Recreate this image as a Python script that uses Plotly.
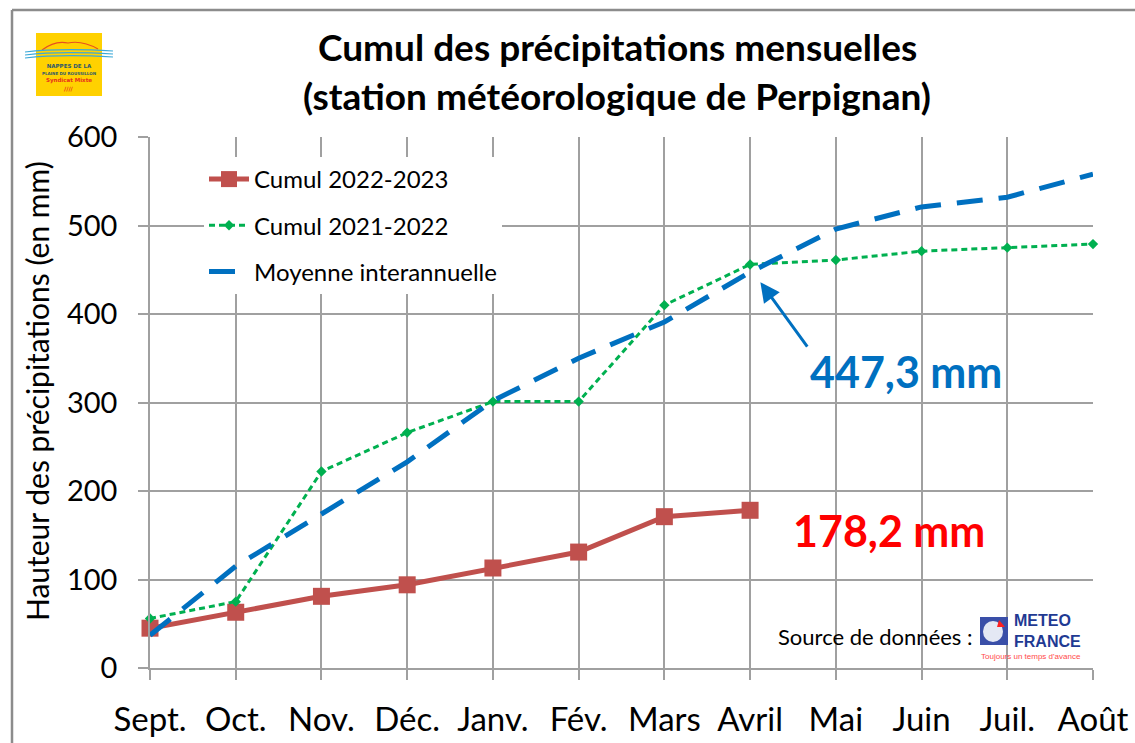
import plotly.graph_objects as go

months = ["Sept.", "Oct.", "Nov.", "Déc.", "Janv.", "Fév.", "Mars", "Avril", "Mai", "Juin", "Juil.", "Août"]
cumul_2022_2023 = [45, 63, 81, 94, 113, 131, 171, 178.2]
cumul_2021_2022 = [56, 75, 222, 266, 301, 301, 410, 456, 461, 471, 475, 479]
moyenne = [37, 115, 174, 233, 302, 350, 391, 447.3, 496, 521, 532, 558]
y_ticks = [0, 100, 200, 300, 400, 500, 600]

W, H = 1135, 743
L, R, T, B = 150, 1093, 137, 668
FONT = "Lato"


def px(x):
    return (x - L) / (R - L)


def py(y):
    return (B - y) / (B - T)


def note(x, y, text, size, color="black", family=FONT, xanchor="center", **kw):
    return dict(xref="paper", yref="paper", x=px(x), y=py(y), text=text, showarrow=False,
                xanchor=xanchor, yanchor="middle",
                font=dict(family=family, size=size, color=color), **kw)


fig = go.Figure()
fig.add_trace(go.Scatter(
    x=months[:len(cumul_2022_2023)], y=cumul_2022_2023, name="Cumul 2022-2023",
    mode="lines+markers", legendgroup="a",
    line=dict(color="#C0504D", width=5),
    marker=dict(symbol="square", size=17, color="#C0504D"),
    cliponaxis=False))
fig.add_trace(go.Scatter(
    x=months, y=cumul_2021_2022, name="Cumul 2021-2022",
    mode="lines+markers", legendgroup="b",
    line=dict(color="#00B050", width=3, dash="6px,4px"),
    marker=dict(symbol="diamond", size=8, color="#00B050"),
    cliponaxis=False))
fig.add_trace(go.Scatter(
    x=months, y=moyenne, name="Moyenne interannuelle",
    mode="lines", legendgroup="c",
    line=dict(color="#0070C0", width=5, dash="26px,16px"),
    cliponaxis=False))

shapes = []
annotations = []

# outer frame
shapes.append(dict(type="line", xref="paper", yref="paper", x0=px(12), x1=px(12), y0=py(10), y1=py(760),
                   line=dict(color="#8c8c8c", width=2.5)))
shapes.append(dict(type="line", xref="paper", yref="paper", x0=px(12), x1=px(1150), y0=py(10), y1=py(10),
                   line=dict(color="#8c8c8c", width=2.5)))

# white boxes behind labels
for (x0, y0, x1, y1) in [(788, 329, 1028, 408), (760, 490, 1090, 570), (760, 612, 1090, 656)]:
    shapes.append(dict(type="rect", xref="paper", yref="paper", x0=px(x0), x1=px(x1), y0=py(y0), y1=py(y1),
                       fillcolor="white", line=dict(width=0), layer="below"))

# logo Nappes de la plaine du Roussillon
shapes.append(dict(type="rect", xref="paper", yref="paper", x0=px(36), x1=px(102), y0=py(33), y1=py(96),
                   fillcolor="#FFD100", line=dict(width=0)))
shapes.append(dict(type="path", xref="paper", yref="paper",
                   path=f"M {px(42)},{py(50)} Q {px(55)},{py(40)} {px(68)},{py(43)} Q {px(82)},{py(40)} {px(98)},{py(49)}",
                   line=dict(color="#E8501E", width=1.2)))
for yy in (52, 55, 58):
    shapes.append(dict(type="path", xref="paper", yref="paper",
                       path=f"M {px(25)},{py(yy)} Q {px(60)},{py(yy - 4)} {px(113)},{py(yy - 1)}",
                       line=dict(color="#3BA9D8", width=1.2)))
annotations.append(note(69, 73, "<b>NAPPES DE LA<br><span style='font-size:4px'>PLAINE DU ROUSSILLON</span>"
                                "<br><span style='color:#E8301E'>Syndicat Mixte</span></b>",
                        5.5, "#2F5A6A", "DejaVu Sans"))
annotations.append(note(69, 89, "<b>////</b>", 6, "#E8301E", "DejaVu Sans"))

# title
annotations.append(note(617, 46, "<b>Cumul des précipitations mensuelles</b>", 37))
annotations.append(note(617, 95, "<b>(station météorologique de Perpignan)</b>", 37))

# y axis title
annotations.append(note(37, 391, "Hauteur des précipitations (en mm)", 30, textangle=-90))

# value labels
annotations.append(note(906, 371, "<b>447,3 mm</b>", 43, "#0070C0"))
annotations.append(note(889, 530, "<b>178,2 mm</b>", 43, "#FF0000"))
annotations.append(dict(x=7.12, y=436, xref="x", yref="y", ax=48, ay=66, text="", showarrow=True,
                        arrowhead=2, arrowsize=1.3, arrowwidth=3, arrowcolor="#0070C0"))

# source
annotations.append(note(975, 636, "Source de données :", 22, xanchor="right"))
shapes.append(dict(type="rect", xref="paper", yref="paper", x0=px(980), x1=px(1008), y0=py(617), y1=py(645),
                   fillcolor="#3A4FA8", line=dict(width=0)))
shapes.append(dict(type="circle", xref="paper", yref="paper", x0=px(983), x1=px(1003), y0=py(621), y1=py(642),
                   fillcolor="#E4E8F4", line=dict(width=0)))
shapes.append(dict(type="path", xref="paper", yref="paper",
                   path=f"M {px(999)},{py(620)} L {px(1005)},{py(627)} L {px(997)},{py(627)} Z",
                   fillcolor="#FF2020", line=dict(width=0)))
annotations.append(note(1012, 631, "<b>METEO<br>FRANCE</b>", 16, "#1F3A93", "Liberation Sans",
                        xanchor="left", align="left"))
annotations.append(note(1031, 656, "Toujours un temps d'avance", 8, "#FF4A4A", "Liberation Sans"))

fig.update_layout(
    width=W, height=H,
    margin=dict(l=L, r=W - R, t=T, b=H - B, pad=0, autoexpand=False),
    paper_bgcolor="white", plot_bgcolor="white",
    font=dict(family=FONT, color="black"),
    showlegend=True,
    legend=dict(x=px(204), y=py(157), xanchor="left", yanchor="top",
                bgcolor="white", font=dict(family=FONT, size=24, color="black"),
                tracegroupgap=12, itemwidth=40, borderwidth=0),
    shapes=shapes, annotations=annotations,
    xaxis=dict(type="category", range=[0, 11], showgrid=True, gridcolor="#a0a0a0", gridwidth=1.5,
               showline=True, linecolor="#a0a0a0", linewidth=1.5, automargin=False,
               ticks="outside", ticklen=10, tickcolor="#a0a0a0", tickwidth=1.5,
               ticklabelstandoff=12,
               tickfont=dict(family=FONT, size=33, color="black"), fixedrange=True),
    yaxis=dict(range=[0, 600], tickvals=y_ticks, showgrid=True, gridcolor="#a0a0a0", gridwidth=1.5,
               showline=True, linecolor="#a0a0a0", linewidth=1.5, zeroline=False, automargin=False,
               ticks="outside", ticklen=10, tickcolor="#a0a0a0", tickwidth=1.5,
               ticklabelstandoff=15,
               tickfont=dict(family=FONT, size=29, color="black"), fixedrange=True),
)

fig.write_html("out.html", config={"displayModeBar": False},
               post_script="document.body.style.margin='0';")
